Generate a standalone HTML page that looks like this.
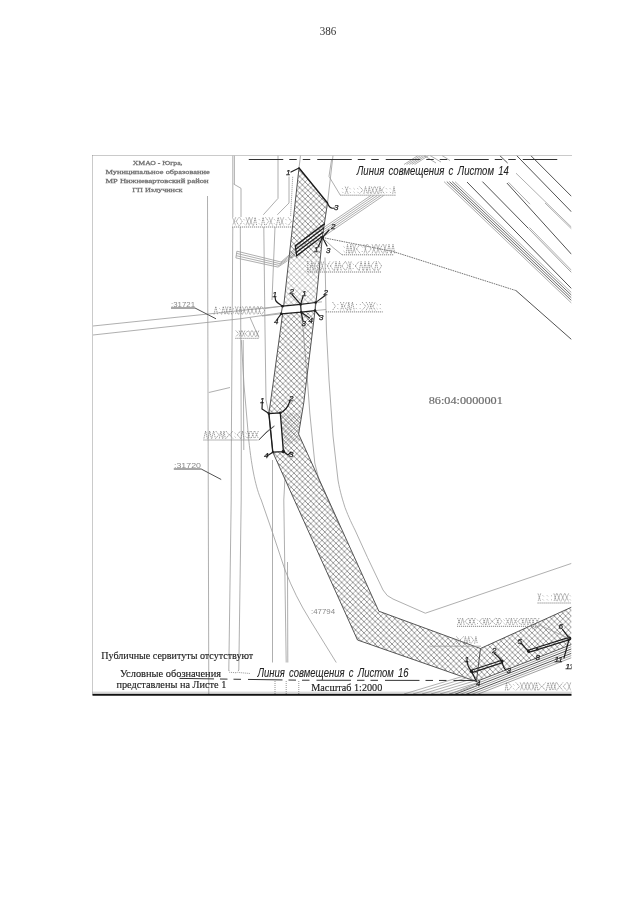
<!DOCTYPE html>
<html><head><meta charset="utf-8"><title>386</title>
<style>
html,body{margin:0;padding:0;background:#fff;}
body{width:640px;height:905px;overflow:hidden;font-family:"Liberation Serif",serif;}
svg{display:block;position:absolute;left:0;top:0;filter:grayscale(1);}
.l{fill:none;stroke:#9a9a9a;stroke-width:0.8;}
.l2{fill:none;stroke:#777;stroke-width:0.7;}
.m{fill:none;stroke:#484848;stroke-width:0.95;}
.m2{fill:none;stroke:#4a4a4a;stroke-width:0.8;}
.e{fill:none;stroke:#555;stroke-width:1;}
.d{fill:none;stroke:#1c1c1c;stroke-width:1.35;stroke-linecap:round;stroke-linejoin:round;}
.d1{fill:none;stroke:#1e1e1e;stroke-width:1.2;stroke-linecap:round;}
.stp{fill:none;stroke:#7c7c7c;stroke-width:0.75;stroke-dasharray:1.4 0.7;}
.dotu{fill:none;stroke:#777;stroke-width:0.9;stroke-dasharray:1.2 0.8;}
.dot2{fill:none;stroke:#666;stroke-width:0.9;stroke-dasharray:1.6 0.8;}
.dot{fill:none;stroke:#888;stroke-width:0.9;stroke-dasharray:1 1;}
.num{font-family:"Liberation Sans",sans-serif;font-style:italic;fill:#111;stroke:#222;stroke-width:0.25;}
.gost{word-spacing:2px;font-family:"Liberation Sans",sans-serif;font-style:italic;font-size:12.2px;fill:#222;stroke:#333;stroke-width:0.1;}
.hd{font-family:"Liberation Serif",serif;font-size:6.8px;fill:#6a6a6a;stroke:#777;stroke-width:0.3;}
.cad{font-family:"Liberation Serif",serif;font-size:11px;fill:#6a6a6a;stroke:#777;stroke-width:0.2;}
.bt{font-family:"Liberation Serif",serif;font-size:10.2px;fill:#151515;stroke:#333;stroke-width:0.15;}
.sm{font-family:"Liberation Sans",sans-serif;font-size:6.5px;fill:#888;}
.pg{font-family:"Liberation Serif",serif;font-size:11.8px;fill:#333;}
</style></head>
<body>
<svg width="640" height="905" viewBox="0 0 640 905">
<defs>
<pattern id="hatch" width="5.6" height="5.6" patternUnits="userSpaceOnUse">
<path d="M-1,-1 L6.6,6.6 M-1,4.6 L1,6.6 M4.6,-1 L6.6,1" stroke="#5a5a5a" stroke-width="0.7" fill="none"/>
<path d="M6.6,-1 L-1,6.6 M-1,1 L1,-1 M4.6,6.6 L6.6,4.6" stroke="#8a8a8a" stroke-width="0.7" fill="none"/>
</pattern>
<pattern id="stip" width="9" height="9" patternUnits="userSpaceOnUse">
<path d="M0,8 L3,1 L6,8 M4,1 L9,8 M7,1 L5,5 M0.5,4.5 L4,4.5" stroke="#8c8c8c" stroke-width="0.8" fill="none" stroke-dasharray="1.6 0.7"/>
</pattern>
<pattern id="dots" width="3" height="3" patternUnits="userSpaceOnUse"><rect x="0.5" y="0.5" width="1" height="1" fill="#777"/><rect x="2" y="2" width="0.8" height="0.8" fill="#999"/></pattern>
<clipPath id="frameclip"><rect x="92.5" y="155.5" width="479.0" height="539.0"/></clipPath>
</defs>
<polygon points="287,258 321,258 315.6,302.5 282.5,306.25" fill="#fff" opacity="0.4"/>
<polygon points="281,413 302,413 298.6,434 300,440 284,446" fill="#fff" opacity="0.55"/>
<polygon points="281,413 302,413 298.6,434 300,440 284,446" fill="url(#dots)"/>
<g clip-path="url(#frameclip)">
<polyline class="l" points="207.5,196.0 208.8,694.0" />
<polyline class="l" points="232.8,155.5 232.8,217.0" />
<polyline class="l" points="234.4,155.5 234.4,184.0" />
<polyline class="l" points="233.6,184.0 241.0,188.3 241.0,217.0" />
<polyline class="l" points="278.0,155.5 278.0,198.4 263.3,214.8" />
<polyline class="l" points="289.0,176.5 289.0,203.0 277.3,214.8" />
<polyline class="dot" points="292.7,176.8 290.6,216.0" />
<polyline class="l" points="232.8,227.0 231.3,450.0 231.2,500.0 228.8,670.0" />
<polyline class="l" points="240.3,227.0 241.3,450.0 241.2,500.0 238.8,670.0" />
<polyline class="l" points="243.2,340.0 243.8,450.0" />
<polyline class="l" points="263.8,227.0 265.0,330.0 266.0,400.0 268.9,413.6" />
<polyline class="l" points="275.0,227.0 272.0,300.0" />
<polyline class="l" points="93.0,326.0 210.0,313.8 283.0,306.0" />
<polyline class="l" points="93.0,335.0 240.0,318.8 283.0,312.5" />
<polyline class="l" points="208.8,392.5 230.0,387.5" />
<path class="l" d="M241.3,340 L244,385 L248.75,440 C252,470 256,488 261.25,500 L272.5,532.5 L285,570 C292,588 300,604 310,620 L336.25,662.5" />
<polyline class="l" points="272.5,460.0 272.5,662.5" />
<polyline class="l" points="285.0,477.0 283.8,500.0 286.2,662.5" />
<polyline class="l" points="287.5,562.0 287.8,662.5" />
<polyline class="dot" points="275.0,681.0 275.0,694.0" />
<polyline class="dot" points="286.2,681.0 286.2,694.0" />
<polyline class="dot" points="298.8,681.0 298.8,694.0" />
<polyline class="dot" points="228.8,670.0 229.5,672.3 237.0,672.8 238.8,670.0" />
<polyline class="dot" points="238.8,672.5 250.0,673.5" />
<polyline class="l" points="301.0,312.5 303.2,330.0 307.4,380.0 309.8,413.0 314.8,463.0 319.0,480.0 340.0,527.0" />
<path class="l" d="M325,257.5 L326.4,330 L329,380 L333,436 L338,480 C340,492 343,501 345,507.5 C349,518 352,524 355,530 L367.5,557.5 L383,590 Q386.5,596.5 393,599 L425.3,613.2 L571.5,563.4" />
<polyline class="dot2" points="322.5,237.5 393.0,251.5 516.0,290.6" />
<polyline class="m" points="516.0,290.6 571.5,339.5" />
<polyline class="l" points="444.0,181.6 571.5,303.1" />
<polyline class="m2" points="446.8,181.6 571.5,300.5" />
<polyline class="m2" points="449.5,181.6 571.5,297.9" />
<polyline class="m2" points="452.2,181.6 571.5,295.2" />
<polyline class="l" points="455.0,181.6 571.5,292.6" />
<polyline class="m" points="467.0,182.0 571.5,288.6" />
<polyline class="m" points="482.4,181.6 528.0,228.0" />
<polyline class="l2" points="528.0,228.0 571.5,272.5" />
<polyline class="l" points="529.5,227.5 571.5,270.3" />
<polyline class="m" points="506.9,183.0 571.5,254.3" />
<polyline class="l" points="508.4,182.2 530.0,204.2" />
<polyline class="l" points="516.0,173.2 571.5,227.2" />
<polyline class="l" points="545.0,203.0 571.5,228.9" />
<polyline class="m" points="516.7,155.6 571.5,211.9" />
<polyline class="m" points="530.8,155.6 571.5,196.4" />
<polyline class="m" points="499.8,155.6 507.6,163.0" />
<polyline class="l" points="236.9,251.2 281.0,262.0 295.5,249.5" />
<polyline class="l" points="236.6,253.4 280.0,263.7 295.5,251.5" />
<polyline class="l" points="236.2,255.7 279.0,265.4 295.5,253.5" />
<polyline class="l" points="235.9,257.9 278.0,267.1 295.5,255.4" />
<polyline class="l" points="236.9,251.2 235.9,257.9" />
<polyline class="l" points="323.8,227.5 370.8,195.5" />
<polyline class="l" points="404.0,164.5 418.0,155.5" />
<polyline class="l" points="323.8,229.7 374.0,195.5" />
<polyline class="l" points="406.6,164.5 420.6,155.5" />
<polyline class="l" points="323.8,231.9 377.3,195.5" />
<polyline class="l" points="409.3,164.5 423.3,155.5" />
<polyline class="l" points="323.8,234.1 380.5,195.5" />
<polyline class="l" points="411.9,164.5 425.9,155.5" />
<polyline class="l" points="323.8,236.3 383.7,195.5" />
<polyline class="l" points="414.6,164.5 428.6,155.5" />
<polyline class="l" points="424.0,155.5 436.0,163.0" />
<polyline class="l" points="430.0,155.5 441.0,162.0" />
<polyline class="l" points="442.0,155.5 450.0,160.5" />
<polygon points="299.0,168.0 327.5,203.0 322.5,236.0 316.0,302.5 303.8,402.5 298.6,434.0 378.8,611.2 480.5,648.5 571.5,607.2 571.5,644.5 476.4,681.5 357.5,640.0 272.8,452.2 283.4,451.6 280.3,412.8 268.9,413.6 273.6,380.0 283.8,305.0" fill="url(#hatch)" stroke="none"/>
<polygon points="287,258 321,258 315.6,302.5 282.5,306.25" fill="#fff" opacity="0.4"/>
<polyline class="l" points="300.5,155.5 299.0,168.0" />
<polyline class="e" points="299.0,168.0 283.8,305.0 273.6,380.0 268.9,413.6 272.8,452.2 357.5,640.0 476.4,681.5 571.5,644.5" />
<polyline class="l" points="333.0,155.5 327.5,203.0" />
<polyline class="e" points="327.5,203.0 322.5,236.0 316.0,302.5 303.8,402.5 298.6,434.0 378.8,611.2 480.5,648.5 571.5,607.2" />
<polyline class="l2" points="440.0,697.9 571.5,646.7" />
<polyline class="m" points="440.0,700.1 571.5,648.9" />
<polyline class="l2" points="440.0,702.3 571.5,651.1" />
<polyline class="m" points="440.0,704.5 571.5,653.3" />
<polyline class="l2" points="440.0,706.7 571.5,655.5" />
<polyline class="l2" points="440.0,708.9 571.5,657.7" />
<polyline class="l" points="404.0,694.0 462.2,676.5" />
<polyline class="l" points="413.0,694.0 466.3,678.0" />
<polyline class="l" points="422.0,694.0 470.5,679.4" />
<polyline class="l" points="431.0,694.0 474.7,680.9" />
<polyline class="l" points="440.0,694.0 478.8,682.4" />
<polyline class="l" points="449.0,694.0 483.0,683.8" />
<polyline class="l" points="430.0,646.2 481.0,646.2" />
<path class="stp" d="M232.5,217.4 L235.7,225.5 M235.7,217.4 L232.5,225.5 M236.2,221.4 L238.8,217.4 M236.2,221.4 L238.8,225.5 M239.7,217.4 L242.1,221.4 L239.7,225.5 M243.8,219.4 l0.8,0.8 M243.8,223.5 l0.8,0.8 M246.0,217.4 L249.1,225.5 M249.1,217.4 L246.0,225.5 M249.3,217.4 L252.6,225.5 M252.6,217.4 L249.3,225.5 M253.5,225.5 L255.1,217.4 L256.7,225.5 M259.0,219.4 l0.8,0.8 M259.0,223.5 l0.8,0.8 M261.5,225.5 L263.1,217.4 L264.7,225.5 M265.5,217.4 L268.7,221.4 L265.5,225.5 M269.1,217.4 L272.7,225.5 M272.7,217.4 L269.1,225.5 M274.3,219.4 l0.8,0.8 M274.3,223.5 l0.8,0.8 M276.5,225.5 L278.2,217.4 L280.0,225.5 M280.3,217.4 L283.7,225.5 M283.7,217.4 L280.3,225.5 M285.8,219.4 l0.8,0.8 M285.8,223.5 l0.8,0.8 M288.3,217.4 L291.4,221.4 L288.3,225.5"/>
<line class="dotu" x1="232.0" y1="227.0" x2="291.4" y2="227.0"/>
<path class="stp" d="M342.3,188.4 l0.8,0.8 M342.3,191.9 l0.8,0.8 M345.2,186.6 L348.1,193.7 M348.1,186.6 L345.2,193.7 M349.8,188.4 l0.8,0.8 M349.8,191.9 l0.8,0.8 M353.7,188.4 l0.8,0.8 M353.7,191.9 l0.8,0.8 M357.5,188.4 l0.8,0.8 M357.5,191.9 l0.8,0.8 M359.5,186.6 L363.0,190.1 L359.5,193.7 M363.9,193.7 L365.5,186.6 L367.2,193.7 M368.0,193.7 L369.3,186.6 L370.6,193.7 M371.2,186.6 L374.3,193.7 M374.3,186.6 L371.2,193.7 M375.0,186.6 L378.0,193.7 M378.0,186.6 L375.0,193.7 M378.7,193.7 L380.0,186.6 L381.4,193.7 M381.6,190.1 L384.4,186.6 M381.6,190.1 L384.4,193.7 M386.1,188.4 l0.8,0.8 M386.1,191.9 l0.8,0.8 M389.9,188.4 l0.8,0.8 M389.9,191.9 l0.8,0.8 M392.7,193.7 L394.0,186.6 L395.2,193.7"/>
<line class="dotu" x1="340.3" y1="195.2" x2="396.2" y2="195.2"/>
<path class="stp" d="M343.7,246.6 l0.8,0.8 M343.7,251.1 l0.8,0.8 M346.3,253.3 L347.5,244.4 L348.8,253.3 M349.6,253.3 L350.8,244.4 L352.1,253.3 M352.6,244.4 L355.8,253.3 M355.8,244.4 L352.6,253.3 M356.4,248.9 L360.1,244.4 M356.4,248.9 L360.1,253.3 M361.8,246.6 l0.8,0.8 M361.8,251.1 l0.8,0.8 M364.0,244.4 L366.8,253.3 M366.8,244.4 L364.0,253.3 M367.6,244.4 L371.2,248.9 L367.6,253.3 M372.1,244.4 L375.6,253.3 M375.6,244.4 L372.1,253.3 M376.5,244.4 L379.5,253.3 M379.5,244.4 L376.5,253.3 M379.9,248.9 L382.8,244.4 M379.9,248.9 L382.8,253.3 M383.5,244.4 L386.3,253.3 M386.3,244.4 L383.5,253.3 M387.2,253.3 L389.0,244.4 L390.9,253.3 M391.3,253.3 L393.0,244.4 L394.7,253.3"/>
<line class="dotu" x1="342.0" y1="254.8" x2="393.8" y2="254.8"/>
<path class="stp" d="M310.0,270.5 L311.7,261.5 L313.3,270.5 M313.9,266.0 L316.3,261.5 M313.9,266.0 L316.3,270.5 M317.1,270.5 L318.8,261.5 L320.5,270.5 M320.9,261.5 L323.8,270.5 M323.8,261.5 L320.9,270.5 M325.3,263.8 l0.8,0.8 M325.3,268.2 l0.8,0.8 M327.4,266.0 L329.9,261.5 M327.4,266.0 L329.9,270.5 M330.3,266.0 L333.8,261.5 M330.3,266.0 L333.8,270.5 M334.5,270.5 L336.0,261.5 L337.4,270.5 M337.7,270.5 L339.5,261.5 L341.2,270.5 M341.8,266.0 L345.3,261.5 M341.8,266.0 L345.3,270.5 M345.5,261.5 L348.2,266.0 L345.5,270.5 M348.6,261.5 L351.2,270.5 M351.2,261.5 L348.6,270.5 M352.8,263.8 l0.8,0.8 M352.8,268.2 l0.8,0.8 M355.2,266.0 L359.0,261.5 M355.2,266.0 L359.0,270.5 M359.3,270.5 L361.1,261.5 L363.0,270.5 M363.6,270.5 L365.1,261.5 L366.6,270.5 M367.4,270.5 L368.7,261.5 L370.1,270.5 M370.8,266.0 L374.2,261.5 M370.8,266.0 L374.2,270.5 M374.7,270.5 L376.3,261.5 L378.0,270.5 M378.5,261.5 L381.7,266.0 L378.5,270.5"/>
<line class="dotu" x1="307.8" y1="272.0" x2="381.2" y2="272.0"/>
<polyline class="dotu" points="307.8,261.0 307.8,272.0" />
<path class="stp" d="M332.5,302.0 L335.5,306.2 L332.5,310.4 M337.5,304.1 l0.8,0.8 M337.5,308.3 l0.8,0.8 M340.4,302.0 L343.9,310.4 M343.9,302.0 L340.4,310.4 M344.3,306.2 L347.0,302.0 M344.3,306.2 L347.0,310.4 M347.5,310.4 L348.8,302.0 L350.0,310.4 M350.6,310.4 L352.4,302.0 L354.3,310.4 M356.1,304.1 l0.8,0.8 M356.1,308.3 l0.8,0.8 M359.9,304.1 l0.8,0.8 M359.9,308.3 l0.8,0.8 M362.0,302.0 L365.7,306.2 L362.0,310.4 M366.0,302.0 L368.6,306.2 L366.0,310.4 M369.3,302.0 L372.3,310.4 M372.3,302.0 L369.3,310.4 M372.8,306.2 L375.3,302.0 M372.8,306.2 L375.3,310.4 M376.7,304.1 l0.8,0.8 M376.7,308.3 l0.8,0.8 M380.0,304.1 l0.8,0.8 M380.0,308.3 l0.8,0.8"/>
<line class="dotu" x1="325.8" y1="311.9" x2="382.8" y2="311.9"/>
<path class="stp" d="M214.0,314.5 L215.8,306.5 L217.6,314.5 M219.5,308.5 l0.8,0.8 M219.5,312.5 l0.8,0.8 M221.6,314.5 L223.3,306.5 L225.0,314.5 M225.4,306.5 L228.0,314.5 M228.0,306.5 L225.4,314.5 M228.8,314.5 L230.2,306.5 L231.6,314.5 M233.2,308.5 l0.8,0.8 M233.2,312.5 l0.8,0.8 M235.3,306.5 L238.1,314.5 M238.1,306.5 L235.3,314.5 M238.7,314.5 L240.4,306.5 L242.0,314.5 M242.5,306.5 L245.9,314.5 M245.9,306.5 L242.5,314.5 M246.8,306.5 L249.9,314.5 M249.9,306.5 L246.8,314.5 M250.2,306.5 L253.8,314.5 M253.8,306.5 L250.2,314.5 M254.4,306.5 L257.5,314.5 M257.5,306.5 L254.4,314.5 M258.2,306.5 L260.8,314.5 M260.8,306.5 L258.2,314.5 M261.7,306.5 L264.5,310.5 L261.7,314.5"/>
<path class="stp" d="M235.8,330.6 L238.7,333.7 L235.8,336.8 M239.1,330.6 L241.7,336.8 M241.7,330.6 L239.1,336.8 M242.0,330.6 L244.9,336.8 M244.9,330.6 L242.0,336.8 M245.3,333.7 L248.0,330.6 M245.3,333.7 L248.0,336.8 M248.5,330.6 L251.6,336.8 M251.6,330.6 L248.5,336.8 M252.3,330.6 L255.6,336.8 M255.6,330.6 L252.3,336.8 M256.1,330.6 L258.8,336.8 M258.8,330.6 L256.1,336.8"/>
<line class="dotu" x1="235.3" y1="338.3" x2="258.8" y2="338.3"/>
<path class="stp" d="M203.9,438.5 L205.6,431.0 L207.3,438.5 M208.1,438.5 L209.7,431.0 L211.4,438.5 M211.8,438.5 L213.6,431.0 L215.4,438.5 M215.7,431.0 L218.9,434.8 L215.7,438.5 M219.3,438.5 L220.9,431.0 L222.5,438.5 M222.8,438.5 L224.0,431.0 L225.3,438.5 M225.9,431.0 L229.1,434.8 L225.9,438.5 M229.6,434.8 L232.9,431.0 M229.6,434.8 L232.9,438.5 M234.7,432.9 l0.8,0.8 M234.7,436.6 l0.8,0.8 M237.3,434.8 L240.4,431.0 M237.3,434.8 L240.4,438.5 M240.9,438.5 L242.5,431.0 L244.1,438.5 M245.7,432.9 l0.8,0.8 M245.7,436.6 l0.8,0.8 M247.5,431.0 L250.3,438.5 M250.3,431.0 L247.5,438.5 M251.1,431.0 L254.4,438.5 M254.4,431.0 L251.1,438.5 M254.7,431.0 L258.4,438.5 M258.4,431.0 L254.7,438.5"/>
<line class="dotu" x1="203.4" y1="440.0" x2="257.8" y2="440.0"/>
<path class="stp" d="M457.5,618.0 L460.5,624.8 M460.5,618.0 L457.5,624.8 M460.9,624.8 L462.6,618.0 L464.2,624.8 M465.1,621.4 L468.2,618.0 M465.1,621.4 L468.2,624.8 M468.5,618.0 L471.5,624.8 M471.5,618.0 L468.5,624.8 M472.2,618.0 L475.3,624.8 M475.3,618.0 L472.2,624.8 M477.1,619.7 l0.8,0.8 M477.1,623.1 l0.8,0.8 M479.6,621.4 L482.1,618.0 M479.6,621.4 L482.1,624.8 M482.8,618.0 L485.6,624.8 M485.6,618.0 L482.8,624.8 M486.1,624.8 L487.5,618.0 L488.9,624.8 M489.3,618.0 L491.9,621.4 L489.3,624.8 M492.2,621.4 L495.8,618.0 M492.2,621.4 L495.8,624.8 M496.4,618.0 L499.1,624.8 M499.1,618.0 L496.4,624.8 M499.4,618.0 L501.9,621.4 L499.4,624.8 M503.7,619.7 l0.8,0.8 M503.7,623.1 l0.8,0.8 M505.9,618.0 L509.4,624.8 M509.4,618.0 L505.9,624.8 M510.0,624.8 L511.4,618.0 L512.8,624.8 M513.6,618.0 L517.3,624.8 M517.3,618.0 L513.6,624.8 M518.0,621.4 L521.0,618.0 M518.0,621.4 L521.0,624.8 M521.5,618.0 L524.0,624.8 M524.0,618.0 L521.5,624.8 M524.7,624.8 L526.3,618.0 L527.9,624.8 M528.1,618.0 L531.2,624.8 M531.2,618.0 L528.1,624.8 M531.7,618.0 L534.5,624.8 M534.5,618.0 L531.7,624.8 M535.4,618.0 L539.1,624.8 M539.1,618.0 L535.4,624.8"/>
<line class="dotu" x1="457.0" y1="626.3" x2="539.4" y2="626.3"/>
<path class="stp" d="M538.0,593.5 L540.7,601.5 M540.7,593.5 L538.0,601.5 M542.8,595.5 l0.8,0.8 M542.8,599.5 l0.8,0.8 M547.1,595.5 l0.8,0.8 M547.1,599.5 l0.8,0.8 M551.2,595.5 l0.8,0.8 M551.2,599.5 l0.8,0.8 M553.9,593.5 L556.5,601.5 M556.5,593.5 L553.9,601.5 M557.2,593.5 L560.3,601.5 M560.3,593.5 L557.2,601.5 M561.0,593.5 L564.5,601.5 M564.5,593.5 L561.0,601.5 M565.0,593.5 L568.6,601.5 M568.6,593.5 L565.0,601.5 M570.0,595.5 l0.8,0.8 M570.0,599.5 l0.8,0.8"/>
<line class="dotu" x1="537.5" y1="603.0" x2="571.5" y2="603.0"/>
<path class="stp" d="M505.3,690.5 L506.5,682.5 L507.7,690.5 M508.1,682.5 L511.6,686.5 L508.1,690.5 M513.4,684.5 l0.8,0.8 M513.4,688.5 l0.8,0.8 M515.8,682.5 L519.6,686.5 L515.8,690.5 M520.2,682.5 L523.6,690.5 M523.6,682.5 L520.2,690.5 M524.4,682.5 L527.3,690.5 M527.3,682.5 L524.4,690.5 M527.6,682.5 L530.7,690.5 M530.7,682.5 L527.6,690.5 M531.6,682.5 L534.9,690.5 M534.9,682.5 L531.6,690.5 M535.1,690.5 L536.5,682.5 L537.9,690.5 M538.2,682.5 L541.4,686.5 L538.2,690.5 M542.1,686.5 L545.6,682.5 M542.1,686.5 L545.6,690.5 M546.3,690.5 L548.1,682.5 L550.0,690.5 M550.3,682.5 L552.9,690.5 M552.9,682.5 L550.3,690.5 M553.5,682.5 L556.1,690.5 M556.1,682.5 L553.5,690.5 M556.8,682.5 L559.3,686.5 L556.8,690.5 M559.7,686.5 L562.9,682.5 M559.7,686.5 L562.9,690.5 M563.4,686.5 L566.6,682.5 M563.4,686.5 L566.6,690.5 M567.5,682.5 L570.8,690.5 M570.8,682.5 L567.5,690.5"/>
<path class="stp" d="M456.5,636.5 L459.4,640.1 L456.5,643.7 M460.0,640.1 L463.7,636.5 M460.0,640.1 L463.7,643.7 M464.0,643.7 L465.4,636.5 L466.8,643.7 M467.2,643.7 L468.7,636.5 L470.2,643.7 M470.9,636.5 L473.7,640.1 L470.9,643.7 M474.6,643.7 L475.9,636.5 L477.3,643.7"/>
<polyline class="l" points="250.0,317.5 258.8,337.5" />
<polyline class="l" points="258.8,440.0 266.0,432.0 273.8,426.0" />
<polyline class="l" points="340.3,195.2 329.0,176.4 331.5,160.0" />
<polyline class="l" points="342.0,254.8 333.0,247.5 325.0,240.0" />
<text class="sm" x="171" y="307" textLength="24" lengthAdjust="spacingAndGlyphs">:31721</text>
<polyline class="m" points="171.0,308.0 195.0,308.0 216.0,318.8" />
<text class="sm" x="174" y="468" textLength="27" lengthAdjust="spacingAndGlyphs">:31720</text>
<polyline class="m" points="173.8,469.0 201.2,469.0 221.2,479.5" />
<text class="sm" x="311" y="613.5" textLength="24" lengthAdjust="spacingAndGlyphs">:47794</text>
<polyline class="d" points="299.0,168.0 327.5,203.0" style="stroke-width:1.45"/>
<path class="d1" d="M327.5,203 C329,207 331,209 334,208" />
<polyline class="d1" points="299.0,168.0 291.0,172.0" />
<text class="num" x="286.0" y="175.0" font-size="8">1</text>
<text class="num" x="334.0" y="210.0" font-size="8">3</text>
<polyline class="d1" points="295.3,245.9 324.4,223.9" style="stroke-width:1.35"/>
<polyline class="d1" points="295.8,249.2 323.7,228.0" style="stroke-width:1.35"/>
<polyline class="d1" points="296.2,252.5 323.1,232.2" style="stroke-width:1.35"/>
<polyline class="d1" points="296.7,255.8 322.4,236.3" style="stroke-width:1.35"/>
<polyline class="d1" points="295.3,245.9 296.7,255.8" />
<text class="num" x="331.0" y="229.0" font-size="8">2</text>
<text class="num" x="314.0" y="252.0" font-size="8">1</text>
<text class="num" x="326.0" y="253.0" font-size="8">3</text>
<polyline class="d1" points="322.5,237.5 329.0,230.0" />
<polyline class="d1" points="322.5,237.5 318.0,247.0" />
<polyline class="d1" points="322.5,237.5 327.0,246.0" />
<circle cx="322.5" cy="237.5" r="1.5" fill="#222"/>
<polygon points="282.5,306.25 300.6,304.4 315.6,302.5 315,310.6 301.25,312.25 281.25,313.75" fill="#fff"/>
<polyline class="l" points="265.0,308.5 282.5,306.2" />
<polyline class="l" points="262.0,316.0 281.2,313.8" />
<polyline class="l" points="315.6,302.5 322.0,301.8" />
<polyline class="l" points="315.0,310.6 326.0,309.5" />
<polyline class="d1" points="282.5,306.2 300.6,304.4 315.6,302.5" />
<polyline class="d1" points="281.2,313.8 301.2,312.2 315.0,310.6" />
<polyline class="d1" points="300.6,304.4 301.2,312.2" />
<polyline class="e" points="282.5,306.2 281.2,313.8" />
<polyline class="e" points="315.6,302.5 315.0,310.6" />
<circle cx="282.5" cy="306.25" r="1.3" fill="#222"/>
<circle cx="300.6" cy="304.4" r="1.3" fill="#222"/>
<circle cx="315.6" cy="302.5" r="1.3" fill="#222"/>
<circle cx="281.25" cy="313.75" r="1.3" fill="#222"/>
<circle cx="301.25" cy="312.25" r="1.3" fill="#222"/>
<circle cx="315" cy="310.6" r="1.3" fill="#222"/>
<path class="d1" d="M282.5,306.25 C278,303 276,302 275.5,300 L275,296.5" />
<text class="num" x="272.5" y="297.0" font-size="8">1</text>
<polyline class="d1" points="300.6,304.4 292.0,294.5" />
<text class="num" x="289.5" y="293.5" font-size="8">2</text>
<polyline class="d1" points="300.6,304.4 303.0,296.5" />
<text class="num" x="302.0" y="296.0" font-size="8">1</text>
<path class="d1" d="M315.6,302.5 C319,300 322,298 325,295.5" />
<text class="num" x="323.5" y="294.5" font-size="8">2</text>
<polyline class="d1" points="281.2,313.8 277.0,319.5" />
<text class="num" x="274.0" y="324.0" font-size="8">4</text>
<polyline class="d1" points="301.2,312.2 303.0,321.0" />
<text class="num" x="301.5" y="326.0" font-size="8">3</text>
<polyline class="d1" points="301.2,312.2 309.5,318.0" />
<text class="num" x="308.5" y="323.0" font-size="8">4</text>
<polyline class="d1" points="315.0,310.6 319.5,316.0" />
<text class="num" x="319.0" y="320.0" font-size="8">3</text>
<polyline class="d" points="268.9,413.6 280.3,412.8 283.4,451.6 272.8,452.2 268.9,413.6" />
<circle cx="268.9" cy="413.6" r="1.3" fill="#222"/><circle cx="280.3" cy="412.8" r="1.3" fill="#222"/><circle cx="283.4" cy="451.6" r="1.8" fill="#222"/><circle cx="272.8" cy="452.2" r="1.1" fill="#222"/>
<polyline class="d1" points="268.9,413.6 262.0,409.0 262.3,402.0" />
<text class="num" x="260.0" y="403.0" font-size="8">1</text>
<path class="d1" d="M280.3,412.8 C285,411 288,407 290,401" />
<text class="num" x="289.0" y="401.0" font-size="8">2</text>
<polyline class="d1" points="272.8,452.2 267.0,456.0" />
<text class="num" x="264.0" y="458.0" font-size="8">4</text>
<polyline class="d1" points="283.4,451.6 288.0,455.0 291.0,452.0" />
<text class="num" x="289.0" y="457.0" font-size="8">3</text>
<polyline class="m" points="258.8,440.0 267.0,432.0 274.5,426.0" />
<polyline class="d1" points="471.3,670.3 501.8,660.3" />
<polyline class="d1" points="472.0,672.6 502.5,662.6" />
<polyline class="d1" points="471.3,670.3 472.0,672.6" />
<polyline class="d1" points="501.8,660.3 502.5,662.6" />
<circle cx="471.5" cy="671.3" r="1.6" fill="#222"/><circle cx="502" cy="661.3" r="1.5" fill="#222"/>
<path class="d1" d="M471.5,671.3 C468,667 467,664 467.3,661" />
<text class="num" x="464.5" y="661.5" font-size="8">1</text>
<path class="d1" d="M502,661.3 C499,657 496,655 494.5,653.5" />
<text class="num" x="492.0" y="652.5" font-size="8">2</text>
<path class="d1" d="M502,661.3 C503,666 504,669 506,670" />
<text class="num" x="506.5" y="672.5" font-size="8">3</text>
<polyline class="d1" points="471.5,671.3 476.4,681.5" />
<text class="num" x="476.0" y="686.0" font-size="8">4</text>
<polyline class="d1" points="528.2,650.2 569.0,637.4" />
<polyline class="d1" points="528.8,652.4 569.6,639.6" />
<polyline class="d1" points="528.2,650.2 528.8,652.4" />
<circle cx="528.5" cy="651.2" r="1.5" fill="#222"/><circle cx="569.3" cy="638.5" r="2.1" fill="#222"/><circle cx="537.3" cy="649.3" r="1.3" fill="#222"/>
<path class="d1" d="M528.5,651.2 C525,648 523,645 521.5,643.5" />
<text class="num" x="517.5" y="643.5" font-size="8">5</text>
<path class="d1" d="M569.3,638.5 C566,634 564,631.5 562.5,629.5" />
<text class="num" x="558.5" y="629.0" font-size="8">6</text>
<text class="num" x="535.5" y="660.0" font-size="8">8</text>
<text class="num" x="554.5" y="662.0" font-size="8">11</text>
<text class="num" x="565.5" y="669.0" font-size="8">11</text>
<polyline class="d1" points="569.3,638.5 564.0,658.0" />
<polyline class="m" points="480.5,648.5 476.4,681.5" />
<polyline class="l" points="532.0,629.0 540.0,625.4 569.3,638.5" />
</g>
<line class="dot" x1="92.5" y1="155.5" x2="571.5" y2="155.5"/>
<line class="dot" x1="92.5" y1="155.5" x2="92.5" y2="694.5"/>
<line x1="92.5" y1="694.8" x2="571.5" y2="694.8" stroke="#111" stroke-width="2"/>
<line class="dot" x1="92.5" y1="692.2" x2="571.5" y2="692.2"/>
<line x1="248.75" y1="159.5" x2="559" y2="159.5" stroke="#333" stroke-width="1" stroke-dasharray="34.5 6 7.5 6 7.5 7"/>
<polyline points="179.5,678.4 300,680.2 475,680.5" fill="none" stroke="#333" stroke-width="1" stroke-dasharray="34.5 6 7.5 6 7.5 7"/>
<text class="gost" x="356.8" y="175.2" textLength="152" lengthAdjust="spacingAndGlyphs">Линия совмещения с Листом 14</text>
<text class="gost" x="257.4" y="677.2" textLength="151.2" lengthAdjust="spacingAndGlyphs">Линия совмещения с Листом 16</text>
<text class="hd" x="132.8" y="165.3" textLength="49.7" lengthAdjust="spacingAndGlyphs">ХМАО - Югра,</text>
<text class="hd" x="105.6" y="173.9" textLength="104" lengthAdjust="spacingAndGlyphs">Муниципальное образование</text>
<text class="hd" x="105.6" y="183" textLength="103" lengthAdjust="spacingAndGlyphs">МР Нижневартовский район</text>
<text class="hd" x="132.3" y="192" textLength="50.2" lengthAdjust="spacingAndGlyphs">ГП Излучинск</text>
<text class="cad" x="428.75" y="403.5" textLength="74" lengthAdjust="spacingAndGlyphs">86:04:0000001</text>
<text class="bt" x="101.25" y="658.9" textLength="152" lengthAdjust="spacingAndGlyphs">Публичные сервитуты отсутствуют</text>
<text class="bt" x="120" y="677.4" textLength="101" lengthAdjust="spacingAndGlyphs">Условные обозначения</text>
<text class="bt" x="116.4" y="687.8" textLength="110" lengthAdjust="spacingAndGlyphs">представлены на Листе 1</text>
<text class="bt" x="311.3" y="690.9" textLength="71" lengthAdjust="spacingAndGlyphs">Масштаб 1:2000</text>
<text class="pg" x="319.8" y="34.6" textLength="16.6" lengthAdjust="spacingAndGlyphs">386</text>
</svg>
</body></html>
